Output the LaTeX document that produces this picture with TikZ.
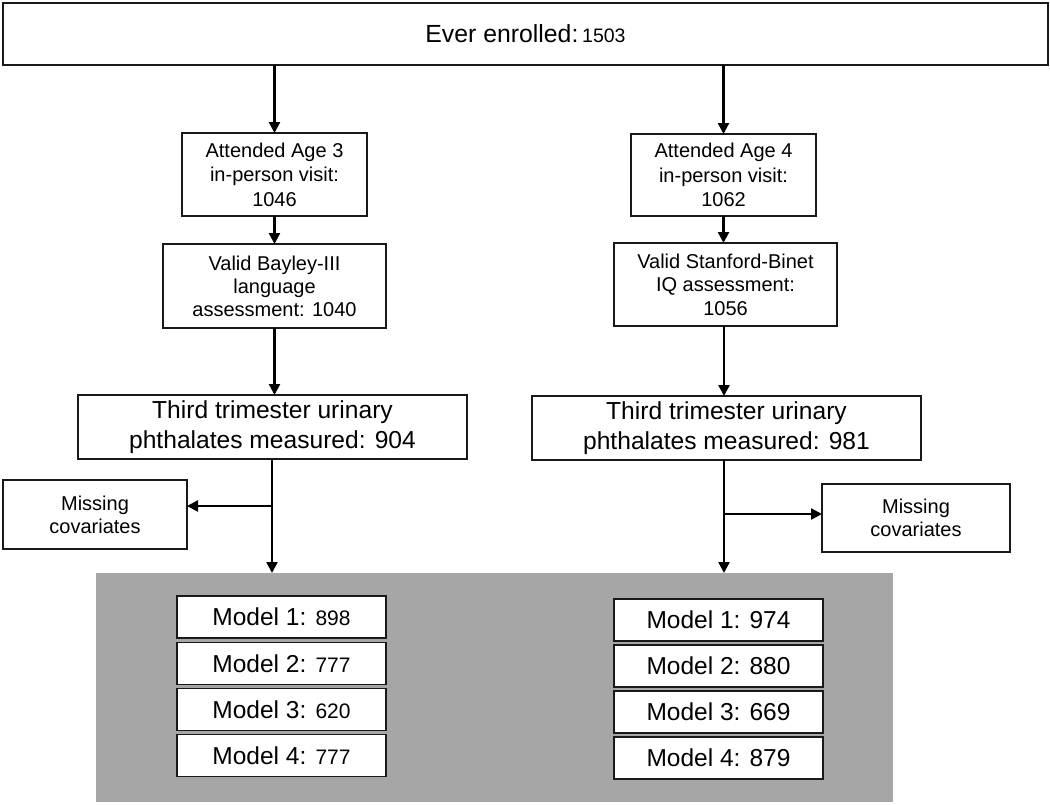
\documentclass[tikz,border=0pt]{standalone}
\usepackage{fontspec}
\setmainfont{Liberation Sans}
\usetikzlibrary{arrows.meta,calc}
\begin{document}
\begin{tikzpicture}[x={(1pt,0)},y={(0,-1pt)},
  box/.style={draw=black!90, line width=1.3pt, fill=white, align=center, inner sep=0pt, outer sep=0pt},
  arr/.style={draw=black, line width=2.4pt, -{Triangle[length=11pt,width=11pt]}},
  fA/.style={font=\fontsize{20}{24.5}\selectfont},
  fB/.style={font=\fontsize{24.6}{30}\selectfont},
  fM/.style={font=\fontsize{20}{23}\selectfont},
  fR/.style={font=\fontsize{24.5}{28}\selectfont}]
\useasboundingbox (0,0) rectangle (1050,804);
\fill[white] (0,0) rectangle (1050,804);
% grey panel
\node[fill={rgb,255:red,166;green,166;blue,166}, inner sep=0pt, outer sep=0pt, minimum width=797pt, minimum height=229pt] (grp) at (494.5,687.5) {};
% boxes
\node[box, minimum width=1045pt, minimum height=62pt] (top) at (525.5,34) {{\fontsize{24.8}{28}\selectfont Ever enrolled:} {\fontsize{19.5}{24}\selectfont 1503}};
\node[box, fA, minimum width=185pt, minimum height=83pt] (a3) at (274.5,174.5) {Attended Age 3\\in-person visit:\\1046};
\node[box, fA, minimum width=185pt, minimum height=82pt] (a4) at (723.5,175) {Attended Age 4\\in-person visit:\\1062};
\node[box, font=\fontsize{20}{23}\selectfont, minimum width=223pt, minimum height=84pt] (bay) at (274.5,286) {Valid Bayley-III\\language\\assessment: 1040};
\node[box, font=\fontsize{20}{23.5}\selectfont, minimum width=223pt, minimum height=83pt] (sb) at (725.5,284.5) {Valid Stanford-Binet\\IQ assessment:\\1056};
\node[box, fB, minimum width=389pt, minimum height=64pt] (tl) at (272.5,427) {Third trimester urinary\\phthalates measured: 904};
\node[box, fB, minimum width=389pt, minimum height=64pt] (tr) at (726.5,428) {Third trimester urinary\\phthalates measured: 981};
\node[box, fM, minimum width=184pt, minimum height=69pt] (ml) at (95,514.5) {Missing\\covariates};
\node[box, fM, minimum width=188pt, minimum height=68pt] (mr) at (916,518) {Missing\\covariates};
% model boxes left
\node[box, fR, minimum width=209pt, minimum height=42pt] (l1) at (281.5,617) {Model 1: {\fontsize{21}{24}\selectfont 898}};
\node[box, fR, minimum width=209pt, minimum height=42pt] (l2) at (281.5,663.5) {Model 2: {\fontsize{21}{24}\selectfont 777}};
\node[box, fR, minimum width=209pt, minimum height=42pt] (l3) at (281.5,709.5) {Model 3: {\fontsize{21}{24}\selectfont 620}};
\node[box, fR, minimum width=209pt, minimum height=42pt] (l4) at (281.5,755.5) {Model 4: {\fontsize{21}{24}\selectfont 777}};
% model boxes right
\node[box, fR, minimum width=209pt, minimum height=42pt] (r1) at (718.5,620) {Model 1: 974};
\node[box, fR, minimum width=209pt, minimum height=42pt] (r2) at (718.5,666) {Model 2: 880};
\node[box, fR, minimum width=209pt, minimum height=42pt] (r3) at (718.5,712) {Model 3: 669};
\node[box, fR, minimum width=209pt, minimum height=42pt] (r4) at (718.5,758) {Model 4: 879};
% connectors
\draw[arr] (top.south -| a3.north) -- (a3.north);
\draw[arr] (top.south -| a4.north) -- (a4.north);
\draw[arr] (a3.south) -- (bay.north -| a3.south);
\draw[arr] (a4.south) -- (sb.north -| a4.south);
\draw[arr] (bay.south) -- (tl.north -| bay.south);
\coordinate (sbx) at (724,0);
\draw[arr] (sb.south -| sbx) -- (tr.north -| sbx);
\coordinate (bl) at (272,506);
\coordinate (br) at (724,514);
\draw[arr] (tl.south -| bl) -- (grp.north -| bl);
\draw[arr] (bl) -- (ml.east |- bl);
\draw[arr] (tr.south -| br) -- (grp.north -| br);
\draw[arr] (br) -- (mr.west |- br);
\end{tikzpicture}
\end{document}
